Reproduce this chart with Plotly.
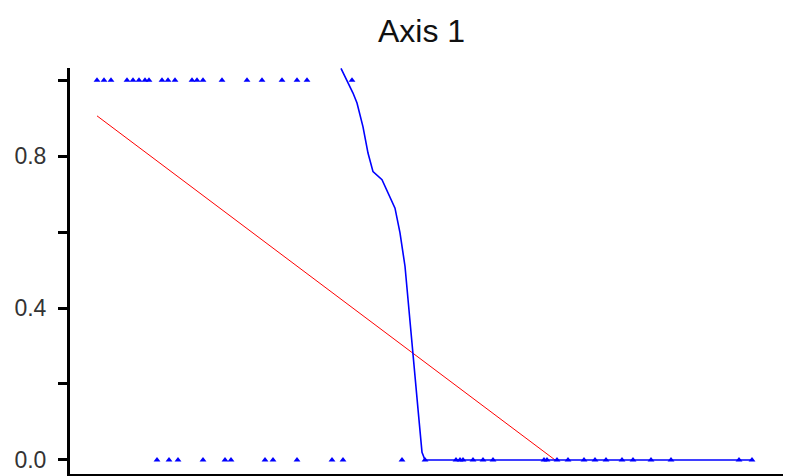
import plotly.graph_objects as go

# Ordination scores along Axis 1 for sites where the species is present (1) or absent (0)
present_scores = [0.27, 0.34, 0.41, 0.57, 0.63, 0.69, 0.75, 0.79, 0.92, 0.98, 1.05,
                  1.22, 1.27, 1.33, 1.52, 1.77, 1.92, 2.12, 2.27, 2.37, 2.82]
absent_scores = [0.87, 0.99, 1.08, 1.33, 1.55, 1.61, 1.95, 2.03, 2.27, 2.62, 2.73,
                 3.32, 3.55, 3.86, 3.90, 3.93, 4.03, 4.13, 4.23, 4.74, 4.77, 4.87,
                 4.98, 5.14, 5.25, 5.36, 5.52, 5.63, 5.81, 6.01, 6.69, 6.82]

# Smoothed response (blue) along Axis 1
smooth_x = [2.71, 2.77, 2.83, 2.87, 2.93, 2.98, 3.03, 3.12, 3.18, 3.25, 3.30,
            3.35, 3.38, 3.42, 3.45, 3.48, 3.52, 3.55, 6.82]
smooth_y = [1.031, 1.000, 0.966, 0.940, 0.877, 0.808, 0.759, 0.738, 0.703, 0.663,
            0.598, 0.510, 0.423, 0.300, 0.213, 0.134, 0.020, 0.000, 0.000]

# Linear fit (red), truncated at zero
linear_x = [0.27, 4.85]
linear_y = [0.906, 0.0]

y_tick_vals = [0.0, 0.2, 0.4, 0.6, 0.8, 1.0]
y_tick_text = ["0.0", "", "0.4", "", "0.8", ""]

BLUE = "#0000FF"
RED = "#FF0000"

fig = go.Figure()

fig.add_trace(go.Scatter(
    x=linear_x, y=linear_y, mode="lines",
    line=dict(color=RED, width=1), hoverinfo="skip"))

fig.add_trace(go.Scatter(
    x=smooth_x, y=smooth_y, mode="lines",
    line=dict(color=BLUE, width=1.6), hoverinfo="skip"))

fig.add_trace(go.Scatter(
    x=present_scores, y=[1] * len(present_scores), mode="markers",
    marker=dict(symbol="triangle-up", size=6, color=BLUE, line=dict(width=0))))

fig.add_trace(go.Scatter(
    x=absent_scores, y=[0] * len(absent_scores), mode="markers",
    marker=dict(symbol="triangle-up", size=6, color=BLUE, line=dict(width=0))))

fig.update_layout(
    width=788, height=476,
    margin=dict(l=70, r=5, t=68, b=2),
    paper_bgcolor="white", plot_bgcolor="white",
    showlegend=False,
    font=dict(family="Liberation Sans, Arial, sans-serif", color="#222222"),
    title=dict(text="Axis 1", x=0.535, xanchor="center", y=0.935, yanchor="middle",
               font=dict(size=32, color="#111111")),
)

fig.update_xaxes(
    range=[0.0, 7.13], showgrid=False, zeroline=False,
    showline=True, linecolor="black", linewidth=3,
    ticks="", showticklabels=False)

fig.update_yaxes(
    range=[-0.037, 1.032], showgrid=False, zeroline=False,
    showline=True, linecolor="black", linewidth=3,
    tickmode="array", tickvals=y_tick_vals, ticktext=y_tick_text,
    ticks="outside", ticklen=9, tickwidth=3, tickcolor="black",
    ticklabelstandoff=7,
    tickfont=dict(size=23, color="#333333"))

fig.write_html("out.html")
